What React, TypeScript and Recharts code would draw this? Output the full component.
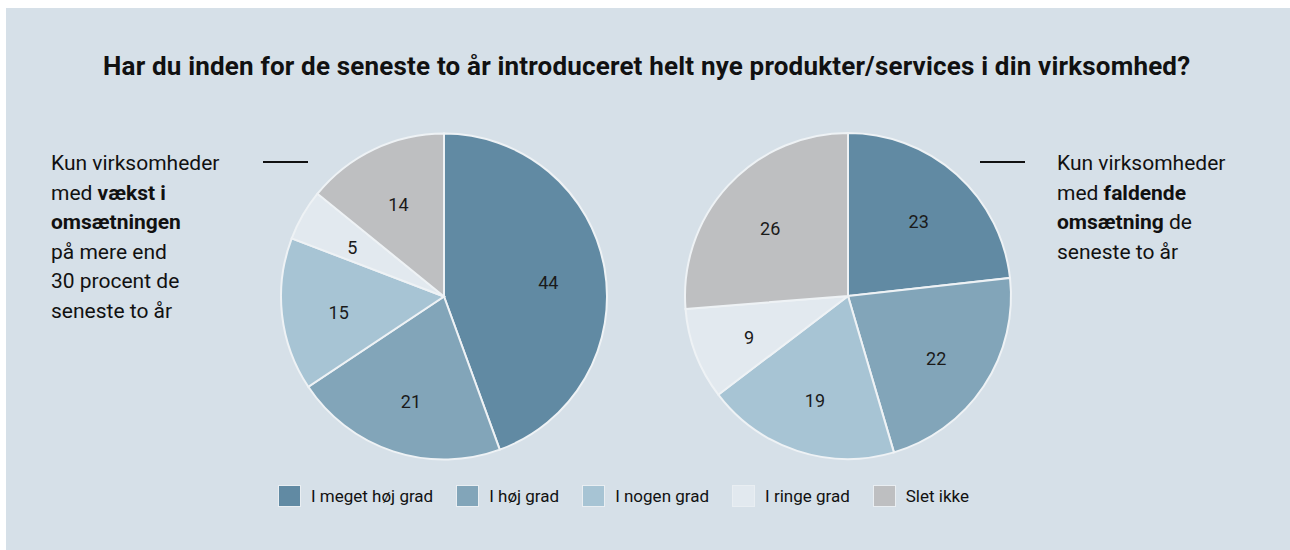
import { PieChart, Pie, Cell } from 'recharts';

const categories = ['I meget høj grad', 'I høj grad', 'I nogen grad', 'I ringe grad', 'Slet ikke'];
const growthValues = [44, 21, 15, 5, 14];
const decliningValues = [23, 22, 19, 9, 26];
const colors = ['#618aa3', '#82a5b9', '#a7c4d4', '#e2e9ef', '#bebfc1'];

const title = 'Har du inden for de seneste to år introduceret helt nye produkter/services i din virksomhed?';

const RADIAN = Math.PI / 180;
const font = 'Roboto, "Noto Sans", sans-serif';

const toRows = (values: number[]) => categories.map((name, i) => ({ name, value: values[i] }));

const renderLabel = (props: any) => {
  const { cx, cy, midAngle, outerRadius, value } = props;
  const r = outerRadius * 0.65;
  const x = cx + r * Math.cos(-midAngle * RADIAN);
  const y = cy + r * Math.sin(-midAngle * RADIAN) + 4;
  return (
    <text x={x} y={y} textAnchor="middle" dominantBaseline="central" fill="#1a1a1a" fontSize={18} fontFamily={font}>
      {value}
    </text>
  );
};

export default function App() {
  const textStyle = { position: 'absolute' as const, fontFamily: font, fontSize: 21, lineHeight: '29.5px', color: '#111' };

  return (
    <div style={{ position: 'fixed', left: 6, top: 8, width: 1300, height: 560, background: '#d6e0e8', overflow: 'hidden' }}>
      <div style={{ position: 'absolute', left: 97, top: 45, fontFamily: font, fontWeight: 700, fontSize: 26, letterSpacing: 0.18, lineHeight: '26px', color: '#111', whiteSpace: 'nowrap' }}>
        {title}
      </div>

      <div style={{ ...textStyle, left: 45, top: 141 }}>
        Kun virksomheder<br />
        med <b>vækst i</b><br />
        <b>omsætningen</b><br />
        på mere end<br />
        30 procent de<br />
        seneste to år
      </div>
      <div style={{ position: 'absolute', left: 257, top: 153, width: 45, height: 2, background: '#111' }} />

      <div style={{ ...textStyle, left: 1051, top: 141 }}>
        Kun virksomheder<br />
        med <b>faldende</b><br />
        <b>omsætning</b> de<br />
        seneste to år
      </div>
      <div style={{ position: 'absolute', left: 974, top: 153, width: 45, height: 2, background: '#111' }} />

      <div style={{ position: 'absolute', left: 0, top: 0 }}>
        <PieChart width={1284} height={542} margin={{ top: 0, right: 0, bottom: 0, left: 0 }}>
          <Pie
            data={toRows(growthValues)}
            dataKey="value"
            nameKey="name"
            cx={438}
            cy={288.5}
            outerRadius={163}
            startAngle={90}
            endAngle={-270}
            stroke="#eef2f5"
            strokeWidth={2}
            label={renderLabel}
            labelLine={false}
            isAnimationActive={false}
          >
            {growthValues.map((_, i) => (
              <Cell key={i} fill={colors[i]} />
            ))}
          </Pie>
          <Pie
            data={toRows(decliningValues)}
            dataKey="value"
            nameKey="name"
            cx={842}
            cy={288}
            outerRadius={163}
            startAngle={90}
            endAngle={-270}
            stroke="#eef2f5"
            strokeWidth={2}
            label={renderLabel}
            labelLine={false}
            isAnimationActive={false}
          >
            {decliningValues.map((_, i) => (
              <Cell key={i} fill={colors[i]} />
            ))}
          </Pie>
        </PieChart>
      </div>

      <div style={{ position: 'absolute', left: 272, top: 477, display: 'flex', alignItems: 'center', fontFamily: font, fontSize: 17, color: '#111' }}>
        {categories.map((name, i) => (
          <div key={name} style={{ display: 'flex', alignItems: 'center', marginRight: 23 }}>
            <div style={{ width: 21, height: 20, background: colors[i], border: '1px solid #e9eef2', marginRight: 10 }} />
            <span>{name}</span>
          </div>
        ))}
      </div>
    </div>
  );
}
